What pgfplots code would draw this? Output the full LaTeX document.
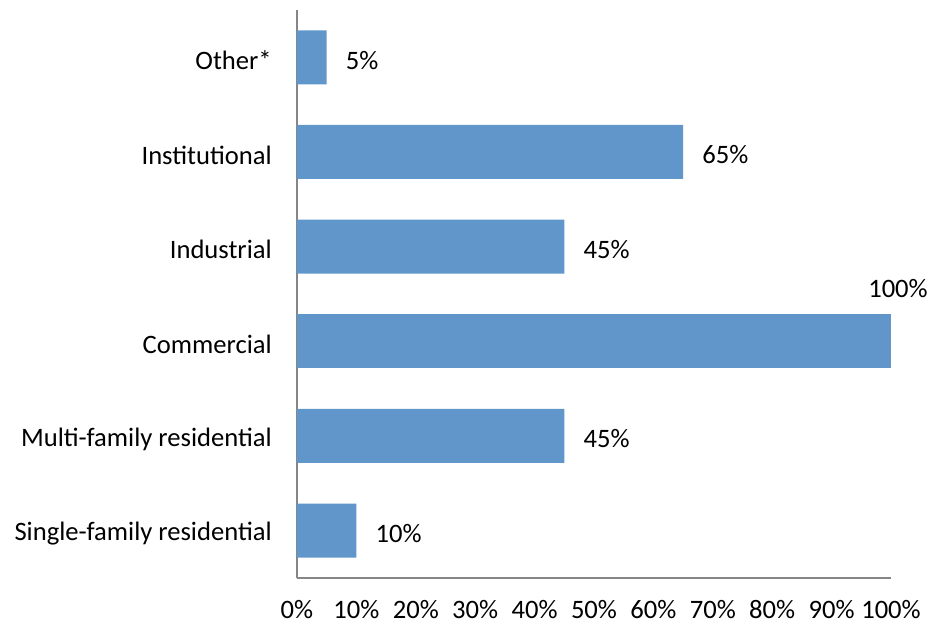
\documentclass[border=0pt]{standalone}
\usepackage{pgfplots}
\pgfplotsset{compat=1.18}
\usepackage{fontspec}
\setmainfont{Carlito}
\definecolor{barblue}{RGB}{97,150,202}
\definecolor{axgray}{RGB}{134,134,134}
\begin{document}
\fontsize{13.3}{16}\selectfont
\begin{tikzpicture}
\useasboundingbox (-148.5pt,-23pt) rectangle (315.5pt,289pt);
\begin{axis}[
  at={(0,0)}, anchor=south west,
  scale only axis,
  width=297pt, height=284pt,
  xmin=0, xmax=100, ymin=-0.5, ymax=5.5,
  xbar, bar width=27pt, bar shift=0pt,
  axis lines=left,
  axis line style={axgray, line width=0.8pt, -},
  xtick={0,10,...,100},
  xticklabel={\pgfmathprintnumber{\tick}\%},
  /pgf/number format/assume math mode=true,
  major tick length=0pt,
  ytick={0,1,2,3,4,5},
  yticklabels={Single-family residential,Multi-family residential,Commercial,Industrial,Institutional,Other*},
  xticklabel style={font=\fontsize{13.3}{16}\selectfont, yshift=-6.5pt},
  yticklabel style={font=\fontsize{13.3}{16}\selectfont, xshift=-8pt, yshift=-1.5pt},
  nodes near coords={\pgfmathprintnumber{\pgfplotspointmeta}\%},
  point meta=x,
  every node near coord/.append style={font=\fontsize{13.3}{16}\selectfont, anchor=west, xshift=5pt, yshift=-1.5pt, /pgf/number format/assume math mode=true},
  clip=false,
]
\addplot[fill=barblue, draw=none] coordinates {(10,0) (45,1) (45,3) (65,4) (5,5)};
\addplot[fill=barblue, draw=none, every node near coord/.append style={anchor=south, xshift=-1.5pt, yshift=18.5pt}] coordinates {(100,2)};
\end{axis}
\end{tikzpicture}
\end{document}
